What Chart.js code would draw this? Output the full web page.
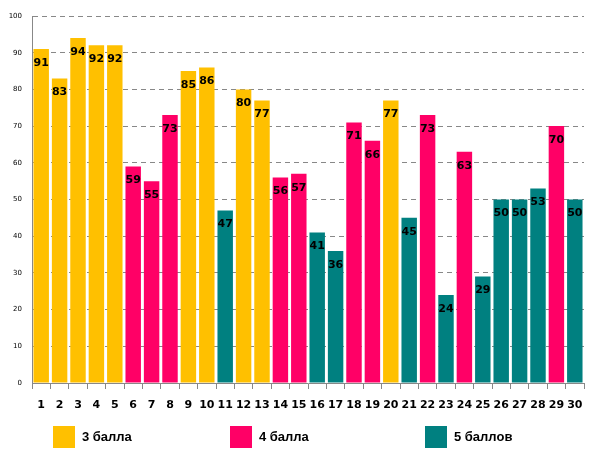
<!DOCTYPE html>
<html lang="ru">
<head>
<meta charset="utf-8">
<title>Баллы</title>
<script src="https://cdn.jsdelivr.net/npm/chart.js@4.4.0/dist/chart.umd.min.js"></script>
<style>
  body { margin: 0; background: #fff; }
  #wrap { position: relative; width: 594px; height: 458px; }
  #legend { position: absolute; top: 426px; left: 0; width: 594px; height: 24px;
            font: bold 13px "Liberation Sans", sans-serif; color: #000; }
  .item { position: absolute; top: 0; height: 22px; line-height: 22px; }
  .box { position: absolute; left: 0; top: 0; width: 22px; height: 22px; }
  .txt { position: absolute; left: 29px; top: 0; white-space: nowrap; }
</style>
</head>
<body>
<div id="wrap">
  <canvas id="chart" width="594" height="458"></canvas>
  <div id="legend"></div>
</div>
<script>
// values for each of the 30 tasks
const labels = ['1','2','3','4','5','6','7','8','9','10','11','12','13','14','15',
                '16','17','18','19','20','21','22','23','24','25','26','27','28','29','30'];
const values = [91, 83, 94, 92, 92, 59, 55, 73, 85, 86, 47, 80, 77, 56, 57,
                41, 36, 71, 66, 77, 45, 73, 24, 63, 29, 50, 50, 53, 70, 50];
// which group each bar belongs to (0 = 3 балла, 1 = 4 балла, 2 = 5 баллов)
const groups = [0, 0, 0, 0, 0, 1, 1, 1, 0, 0, 2, 0, 0, 1, 1,
                2, 2, 1, 1, 0, 2, 1, 2, 1, 2, 2, 2, 2, 1, 2];
const groupNames = ['3 балла', '4 балла', '5 баллов'];
const groupColors = ['#FFC000', '#FF0066', '#008080'];

// build legend
const legend = document.getElementById('legend');
const legendX = [53, 230, 425];
groupNames.forEach((name, i) => {
  const item = document.createElement('div');
  item.className = 'item';
  item.style.left = legendX[i] + 'px';
  item.innerHTML = '<div class="box" style="background:' + groupColors[i] + '"></div><div class="txt">' + name + '</div>';
  legend.appendChild(item);
});

// draws the value inside the top of each bar
const valueLabels = {
  id: 'valueLabels',
  afterDatasetsDraw(chart) {
    const ctx = chart.ctx;
    const meta = chart.getDatasetMeta(0);
    ctx.save();
    ctx.font = 'bold 11px "DejaVu Sans", sans-serif';
    ctx.fillStyle = '#000';
    ctx.textAlign = 'center';
    ctx.textBaseline = 'middle';
    meta.data.forEach((bar, i) => {
      ctx.fillText(values[i], bar.x, bar.y + 14);
    });
    ctx.restore();
  }
};

const ctx = document.getElementById('chart').getContext('2d');
new Chart(ctx, {
  type: 'bar',
  data: {
    labels: labels,
    datasets: [{
      data: values,
      backgroundColor: groups.map(g => groupColors[g]),
      borderWidth: 0,
      barPercentage: 0.84,
      categoryPercentage: 1
    }]
  },
  options: {
    responsive: false,
    animation: false,
    layout: { padding: { top: 16, right: 10, bottom: 43, left: 0 } },
    plugins: { legend: { display: false }, tooltip: { enabled: false } },
    scales: {
      x: {
        grid: { offset: true, drawOnChartArea: false, tickLength: 6, color: '#888' },
        border: { color: '#888' },
        ticks: { color: '#000', padding: 10, maxRotation: 0, autoSkip: false,
                 font: { family: 'DejaVu Sans', size: 11, weight: 'bold' } },
        afterFit(scale) { scale.height = 32; }
      },
      y: {
        min: 0, max: 100,
        ticks: { stepSize: 10, color: '#000', padding: 10,
                 font: { family: 'DejaVu Sans', size: 7 } },
        grid: { color: '#888', drawTicks: false },
        border: { color: '#888', dash: [5, 4] },
        afterFit(scale) { scale.width = 32; }
      }
    }
  },
  plugins: [valueLabels]
});
</script>
</body>
</html>
